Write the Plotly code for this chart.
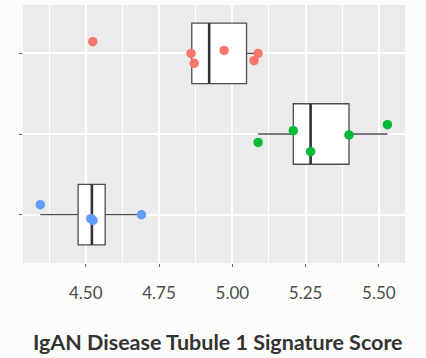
import numpy as np
import plotly.graph_objects as go

# Signature scores per sample group, with the vertical jitter of each dot
scores_a = [4.524, 4.859, 4.870, 4.972, 5.074, 5.088]
jitter_a = [0.145, 0.0, -0.124, 0.037, -0.09, 0.0]
scores_b = [5.088, 5.208, 5.267, 5.398, 5.529]
jitter_b = [-0.104, 0.041, -0.219, -0.012, 0.115]
scores_c = [4.345, 4.517, 4.525, 4.690]
jitter_c = [0.124, -0.05, -0.07, 0.0]

group_pos = [3, 2, 1]
group_colors = ["#F8766D", "#00BA38", "#619CFF"]
x_ticks = [4.50, 4.75, 5.00, 5.25, 5.50]
x_tick_labels = ["4.50", "4.75", "5.00", "5.25", "5.50"]
x_title = "IgAN Disease Tubule 1 Signature Score"

groups = [(scores_a, jitter_a), (scores_b, jitter_b), (scores_c, jitter_c)]

BOX_W = 0.75
fig = go.Figure()

for (vals, jit), pos, col in zip(groups, group_pos, group_colors):
    v = np.array(vals)
    q1, med, q3 = np.percentile(v, [25, 50, 75])
    iqr = q3 - q1
    lo = v[v >= q1 - 1.5 * iqr].min()
    hi = v[v <= q3 + 1.5 * iqr].max()
    fig.add_trace(go.Box(
        y=[pos], q1=[q1], median=[med], q3=[q3],
        lowerfence=[lo], upperfence=[hi],
        orientation="h", width=BOX_W, whiskerwidth=0,
        fillcolor="white", line=dict(color="#4d4d4d", width=1.3),
        boxpoints=False, hoverinfo="skip",
    ))
    # heavier median bar
    fig.add_trace(go.Scatter(
        x=[med, med], y=[pos - BOX_W / 2, pos + BOX_W / 2],
        mode="lines", line=dict(color="#333333", width=2.6),
        hoverinfo="skip",
    ))

for (vals, jit), pos, col in zip(groups, group_pos, group_colors):
    fig.add_trace(go.Scatter(
        x=vals, y=[pos + j for j in jit], mode="markers",
        marker=dict(color=col, size=9.5, line=dict(width=0)),
    ))

fig.update_layout(
    width=426, height=358,
    margin=dict(l=23, r=21, t=5, b=95),
    paper_bgcolor="#FCFCFB", plot_bgcolor="#EBEBEB",
    showlegend=False,
    xaxis=dict(
        range=[4.286, 5.589], tickvals=x_ticks, ticktext=x_tick_labels,
        ticks="outside", ticklen=3, tickcolor="#666666", tickwidth=1,
        ticklabelstandoff=12,
        tickfont=dict(family="Lato", size=17, color="#4D4D4D"),
        showgrid=True, gridcolor="white", gridwidth=1.6,
        zeroline=False, showline=False,
        minor=dict(dtick=0.125, tick0=4.375, showgrid=True,
                   gridcolor="white", gridwidth=0.8),
    ),
    yaxis=dict(
        range=[0.4, 3.6], tickvals=group_pos, showticklabels=False,
        ticks="outside", ticklen=3, tickcolor="#666666", tickwidth=1,
        showgrid=True, gridcolor="white", gridwidth=1.6,
        zeroline=False, showline=False,
    ),
    annotations=[dict(
        text=x_title, xref="paper", yref="paper", x=0.51, y=-0.306,
        xanchor="center", yanchor="middle", showarrow=False,
        font=dict(family="Lato", size=21.5, color="#333333", weight="bold"),
    )],
)

fig.write_html("out.html")
